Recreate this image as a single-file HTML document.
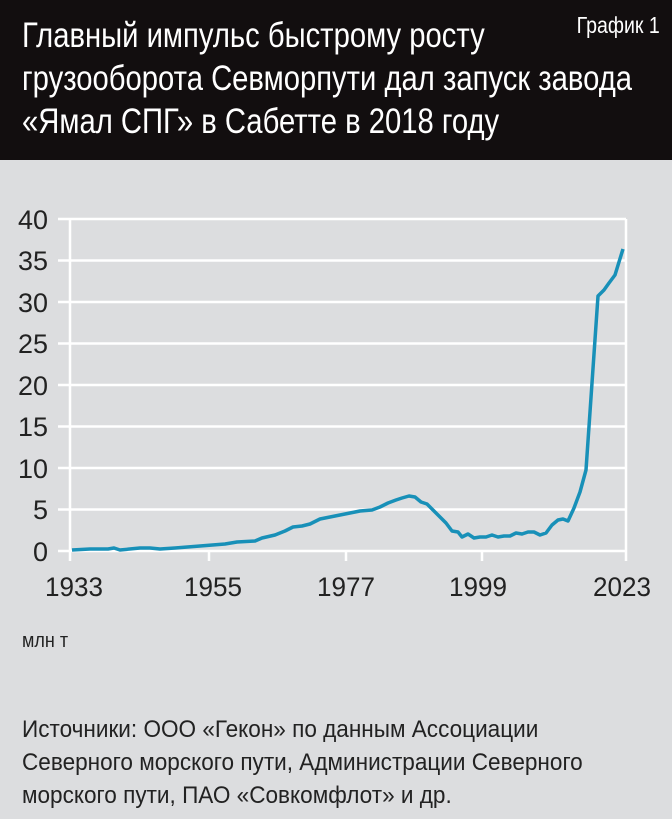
<!DOCTYPE html>
<html><head><meta charset="utf-8"><style>
body{margin:0;width:672px;height:819px;background:#dcdddf;overflow:hidden;font-family:"Liberation Sans",sans-serif;}
.hdr{position:absolute;left:0;top:0;width:672px;height:160px;background:#120e0f;color:#fff;}
.t{position:absolute;left:22px;top:14px;font-size:35px;line-height:43px;white-space:nowrap;transform:scaleX(0.835);transform-origin:0 0;}
.g{position:absolute;right:12px;top:12px;font-size:23px;white-space:nowrap;transform:scaleX(0.85);transform-origin:100% 0;}
.src{position:absolute;left:22px;top:713px;font-size:24px;line-height:33px;color:#222;white-space:nowrap;transform:scaleX(0.94);transform-origin:0 0;}
.u{position:absolute;left:22px;top:630px;font-size:20px;color:#222;transform:scaleX(0.9);transform-origin:0 0;}
</style></head><body>
<div class="hdr"><div class="t">Главный импульс быстрому росту<br>грузооборота Севморпути дал запуск завода<br>«Ямал СПГ» в Сабетте в 2018 году</div><div class="g">График 1</div></div>
<svg width="672" height="819" style="position:absolute;left:0;top:0" font-family="Liberation Sans, sans-serif">
<g stroke="#fff" stroke-width="2.5">
<line x1="58" y1="219" x2="626" y2="219"/><line x1="58" y1="260.5" x2="626" y2="260.5"/><line x1="58" y1="302" x2="626" y2="302"/><line x1="58" y1="343.5" x2="626" y2="343.5"/><line x1="58" y1="385" x2="626" y2="385"/><line x1="58" y1="426.5" x2="626" y2="426.5"/><line x1="58" y1="468" x2="626" y2="468"/><line x1="58" y1="509.5" x2="626" y2="509.5"/><line x1="58" y1="551" x2="626" y2="551"/>
<line x1="70" y1="219" x2="70" y2="561"/><line x1="626" y1="219" x2="626" y2="561"/>
<line x1="209" y1="551" x2="209" y2="561"/><line x1="346" y1="551" x2="346" y2="561"/><line x1="482" y1="551" x2="482" y2="561"/>
</g>
<g font-size="27" fill="#222" text-anchor="end">
<text x="48" y="229" textLength="30" lengthAdjust="spacingAndGlyphs">40</text><text x="48" y="270" textLength="30" lengthAdjust="spacingAndGlyphs">35</text><text x="48" y="312" textLength="30" lengthAdjust="spacingAndGlyphs">30</text><text x="48" y="353" textLength="30" lengthAdjust="spacingAndGlyphs">25</text><text x="48" y="395" textLength="30" lengthAdjust="spacingAndGlyphs">20</text><text x="48" y="436" textLength="30" lengthAdjust="spacingAndGlyphs">15</text><text x="48" y="478" textLength="30" lengthAdjust="spacingAndGlyphs">10</text><text x="48" y="519">5</text><text x="48" y="561">0</text>
</g>
<g font-size="27" fill="#222" text-anchor="middle">
<text x="74" y="596" textLength="58" lengthAdjust="spacingAndGlyphs">1933</text><text x="213" y="596" textLength="58" lengthAdjust="spacingAndGlyphs">1955</text><text x="346" y="596" textLength="58" lengthAdjust="spacingAndGlyphs">1977</text><text x="478" y="596" textLength="58" lengthAdjust="spacingAndGlyphs">1999</text><text x="622" y="596" textLength="58" lengthAdjust="spacingAndGlyphs">2023</text>
</g>
<polyline fill="none" stroke="#1890b8" stroke-width="3.5" stroke-linejoin="round" points="72,550 90,549 108,549 114,548 120,550 140,548 150,548 160,549 175,548 200,546 225,544 237,542 255,541 262,538 275,535 285,531 293,527 302,526 310,524 320,519 330,517 345,514 360,511 372,510 380,507 388,503 396,500 402,498 409,496 415,497 421,502 427,504 434,511 441,518 446,523 452,531 458,532 462,537 468,534 474,538 480,537 486,537 492,535 498,537 504,536 510,536 516,533 522,534 528,532 534,532 540,535 546,533 552,525 558,520 563,519 568,521 574,508 580,492 586,470 598,296 604,290 609,283 615,275 623,249"/>
</svg>
<div class="u">млн т</div>
<div class="src">Источники: ООО «Гекон» по данным Ассоциации<br>Северного морского пути, Администрации Северного<br>морского пути, ПАО «Совкомфлот» и др.</div>
</body></html>
